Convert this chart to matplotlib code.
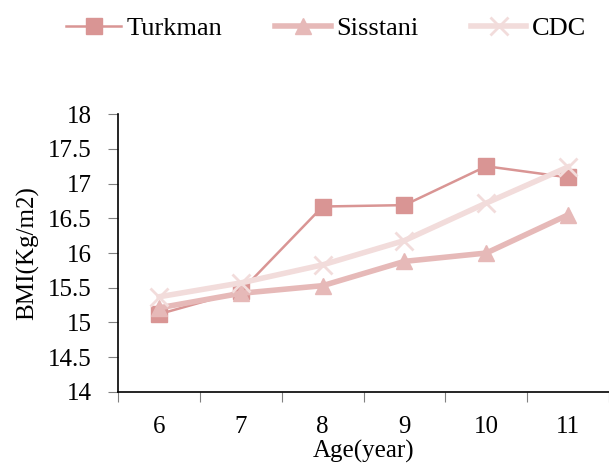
import numpy as np
import matplotlib.pyplot as plt
from matplotlib.ticker import FixedLocator, NullFormatter

plt.rcParams['font.family'] = ['Liberation Serif', 'DejaVu Serif']

ages = ['6', '7', '8', '9', '10', '11']
turkman = [15.12, 15.45, 16.67, 16.69, 17.25, 17.09]
sisstani = [15.21, 15.42, 15.53, 15.88, 16.00, 16.55]
cdc = [15.37, 15.57, 15.83, 16.18, 16.72, 17.24]

fig = plt.figure(figsize=(6.09, 4.66), dpi=100)
ax = fig.add_axes([0.194, 0.159, 0.806, 0.596])

x = np.arange(len(ages))
ax.plot(x, turkman, color='#D99594', lw=1.8, marker='s', ms=11, label='Turkman')
ax.plot(x, sisstani, color='#E6B9B8', lw=4, marker='^', ms=11, label='Sisstani')
ax.plot(x, cdc, color='#F2DCDB', lw=4, marker='x', ms=13, mew=2, label='CDC')

ax.set_xlim(-0.5, len(ages) - 0.5)
ax.set_ylim(14, 18)
ax.set_yticks(np.arange(14, 18.01, 0.5))
ax.set_yticklabels(['14', '14.5', '15', '15.5', '16', '16.5', '17', '17.5', '18'])

# category axis: ticks between categories, labels at centres
ax.xaxis.set_major_locator(FixedLocator(np.arange(-0.5, len(ages), 1.0)))
ax.xaxis.set_major_formatter(NullFormatter())
ax.set_xticks(x, minor=True)
ax.set_xticklabels(ages, minor=True)
ax.tick_params(axis='x', which='major', length=7, color='#808080', direction='out')
ax.tick_params(axis='x', which='minor', length=0, pad=17, labelsize=18)
ax.tick_params(axis='y', length=7, color='#808080', direction='out', pad=12, labelsize=18)

for s in ['top', 'right']:
    ax.spines[s].set_visible(False)
for s in ['left', 'bottom']:
    ax.spines[s].set_color('black')
    ax.spines[s].set_linewidth(1.2)

ax.set_xlabel('Age(year)', fontsize=18, labelpad=2)
ax.set_ylabel('BMI(Kg/m2)', fontsize=18, labelpad=6)

fig.legend(loc='upper center', bbox_to_anchor=(0.535, 1.015), ncol=3, frameon=False,
           fontsize=19, handlelength=2.1, handletextpad=0.2, columnspacing=2.0)

fig.savefig('out.png', dpi=100)
